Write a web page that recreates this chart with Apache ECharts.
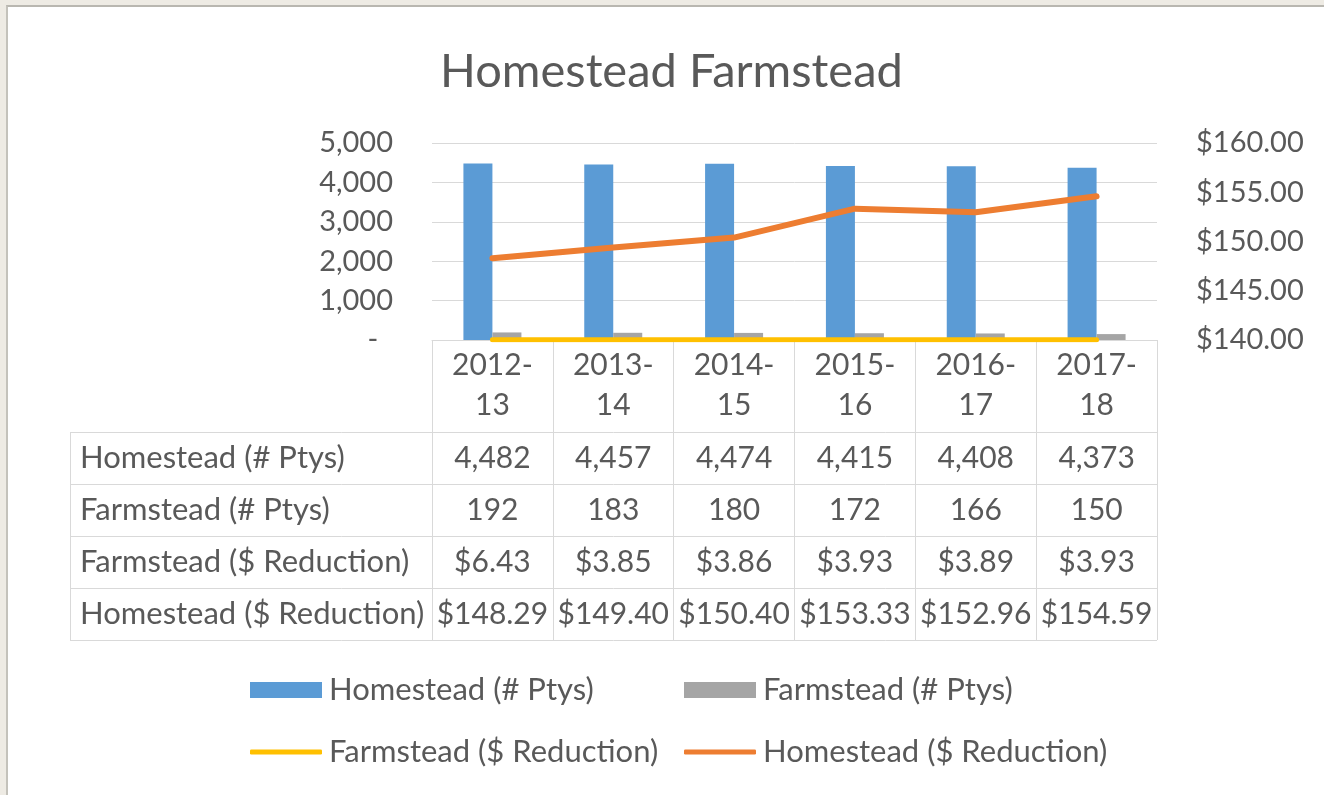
<!DOCTYPE html>
<html>
<head>
<meta charset="utf-8">
<script src="https://cdn.jsdelivr.net/npm/echarts@6/dist/echarts.min.js"></script>
<style>
  html, body { margin: 0; padding: 0; width: 1324px; height: 795px; overflow: hidden; background: #eeebe4; }
  #frame { position: absolute; left: 6px; top: 5px; right: 0; bottom: 0; background: #ffffff;
           border-left: 2px solid #c4c2bb; border-top: 2px solid #b9b7b0; }
  #chart { position: absolute; left: 0; top: 0; width: 1324px; height: 795px; }
</style>
</head>
<body>
<div id="frame"></div>
<div id="chart"></div>
<script>
// ---- data ----
const categories = ['2012-13', '2013-14', '2014-15', '2015-16', '2016-17', '2017-18'];
const homesteadPtys = [4482, 4457, 4474, 4415, 4408, 4373];
const farmsteadPtys = [192, 183, 180, 172, 166, 150];
const farmsteadReduction = [6.43, 3.85, 3.86, 3.93, 3.89, 3.93];
const homesteadReduction = [148.29, 149.40, 150.40, 153.33, 152.96, 154.59];
const seriesNames = ['Homestead (# Ptys)', 'Farmstead (# Ptys)', 'Farmstead ($ Reduction)', 'Homestead ($ Reduction)'];
const leftTicks = [0, 5000, 1000];     // min, max, interval
const rightTicks = [140, 160, 5];

// ---- layout ----
const GL = 432, GR = 1157, GT = 143, GB = 340;
const TABLE_LEFT = 70;
const HEADER_H = 92, ROW_H = 52;
const FONT = 'Lato, "Open Sans", sans-serif';
const TXT = '#595959';
const GRIDC = '#d9d9d9';
const FS = 29;      // axis labels
const TFS = 30;     // table values
const RFS = 31;     // table row labels / legend
const COLORS = ['#5b9bd5', '#a5a5a5', '#ffc000', '#ed7d31'];

const fmtCount = v => v.toLocaleString('en-US');
const fmtMoney = v => '$' + v.toFixed(2);
const rows = [
  homesteadPtys.map(fmtCount),
  farmsteadPtys.map(fmtCount),
  farmsteadReduction.map(fmtMoney),
  homesteadReduction.map(fmtMoney)
];

const chart = echarts.init(document.getElementById('chart'), null, { renderer: 'canvas' });

const xAxes = [{
  type: 'category', gridIndex: 0, data: categories, position: 'bottom',
  axisLine: { show: true, lineStyle: { color: GRIDC, width: 1 } },
  axisTick: { show: true, alignWithLabel: false, length: HEADER_H + ROW_H * 4, lineStyle: { color: GRIDC, width: 1 } },
  axisLabel: {
    interval: 0, margin: 5, color: TXT, fontFamily: FONT, fontSize: TFS, lineHeight: 40,
    formatter: v => v.replace('-', '-\n')
  }
}];
rows.forEach((r, k) => {
  xAxes.push({
    type: 'category', gridIndex: 0, data: categories, position: 'bottom',
    offset: HEADER_H + ROW_H * k,
    axisLine: { show: false }, axisTick: { show: false },
    axisLabel: {
      interval: 0, hideOverlap: false, margin: 0, color: TXT, fontFamily: FONT, fontSize: TFS,
      lineHeight: ROW_H, formatter: (v, i) => r[i]
    }
  });
});

// table lines + row labels
const graphics = [];
for (let k = 0; k <= 4; k++) {
  const y = GB + HEADER_H + ROW_H * k;
  graphics.push({ type: 'line', shape: { x1: TABLE_LEFT, y1: y + 0.5, x2: GR, y2: y + 0.5 },
    style: { stroke: GRIDC, lineWidth: 1 }, silent: true });
}
graphics.push({ type: 'line', shape: { x1: TABLE_LEFT + 0.5, y1: GB + HEADER_H, x2: TABLE_LEFT + 0.5, y2: GB + HEADER_H + ROW_H * 4 },
  style: { stroke: GRIDC, lineWidth: 1 }, silent: true });
seriesNames.forEach((n, k) => {
  graphics.push({ type: 'text', left: TABLE_LEFT + 10, top: GB + HEADER_H + ROW_H * k,
    style: { text: n, fill: TXT, font: RFS + 'px ' + FONT, lineHeight: ROW_H, height: ROW_H, verticalAlign: 'top' }, silent: true });
});

// one legend per item, laid out in a 2x2 grid like the original
const legendPos = [[245, 'bar'], [679, 'bar'], [245, 'line'], [679, 'line']];
const legendRowTop = [674, 736];
const legends = seriesNames.map((n, i) => {
  const isBar = legendPos[i][1] === 'bar';
  const h = isBar ? 16 : 5;
  const rowCenter = legendRowTop[i < 2 ? 0 : 1] + 16;
  return {
    orient: 'horizontal', left: legendPos[i][0], top: rowCenter - 16 - 5,
    itemWidth: 72, itemHeight: h,
    data: [{ name: n, icon: isBar ? 'rect' : 'roundRect' }],
    textStyle: { color: TXT, fontFamily: FONT, fontSize: RFS, lineHeight: 32, padding: [0, 0, 0, 2] }
  };
});

chart.setOption({
  animation: false,
  title: {
    text: 'Homestead Farmstead', left: 435, top: 43,
    textStyle: { color: TXT, fontFamily: FONT, fontSize: 47, fontWeight: 'normal' }
  },
  grid: { left: GL, right: 1324 - GR, top: GT, bottom: 795 - GB, containLabel: false },
  legend: legends,
  xAxis: xAxes,
  yAxis: [{
    type: 'value', min: leftTicks[0], max: leftTicks[1], interval: leftTicks[2], position: 'left',
    axisLine: { show: false }, axisTick: { show: false },
    splitLine: { show: true, lineStyle: { color: GRIDC, width: 1 } },
    axisLabel: { margin: 39, color: TXT, fontFamily: FONT, fontSize: FS,
      formatter: v => v === 0 ? '-\u00a0\u00a0' : fmtCount(v) }
  }, {
    type: 'value', min: rightTicks[0], max: rightTicks[1], interval: rightTicks[2], position: 'right',
    axisLine: { show: false }, axisTick: { show: false }, splitLine: { show: false },
    axisLabel: { margin: 39, color: TXT, fontFamily: FONT, fontSize: FS, formatter: v => fmtMoney(v) }
  }],
  series: [{
    name: seriesNames[0], type: 'bar', xAxisIndex: 0, yAxisIndex: 0, data: homesteadPtys,
    barWidth: 29, barGap: '0%', itemStyle: { color: COLORS[0] }, z: 2
  }, {
    name: seriesNames[1], type: 'bar', xAxisIndex: 0, yAxisIndex: 0, data: farmsteadPtys,
    barWidth: 29, barGap: '0%', itemStyle: { color: COLORS[1] }, z: 2
  }, {
    name: seriesNames[2], type: 'line', xAxisIndex: 0, yAxisIndex: 0, data: farmsteadReduction,
    symbol: 'none', lineStyle: { color: COLORS[2], width: 5, cap: 'round' }, itemStyle: { color: COLORS[2] }, z: 3
  }, {
    name: seriesNames[3], type: 'line', xAxisIndex: 0, yAxisIndex: 1, data: homesteadReduction,
    symbol: 'none', lineStyle: { color: COLORS[3], width: 6, cap: 'round', join: 'round' }, itemStyle: { color: COLORS[3] }, z: 4
  }],
  graphic: graphics
});
</script>
</body>
</html>
